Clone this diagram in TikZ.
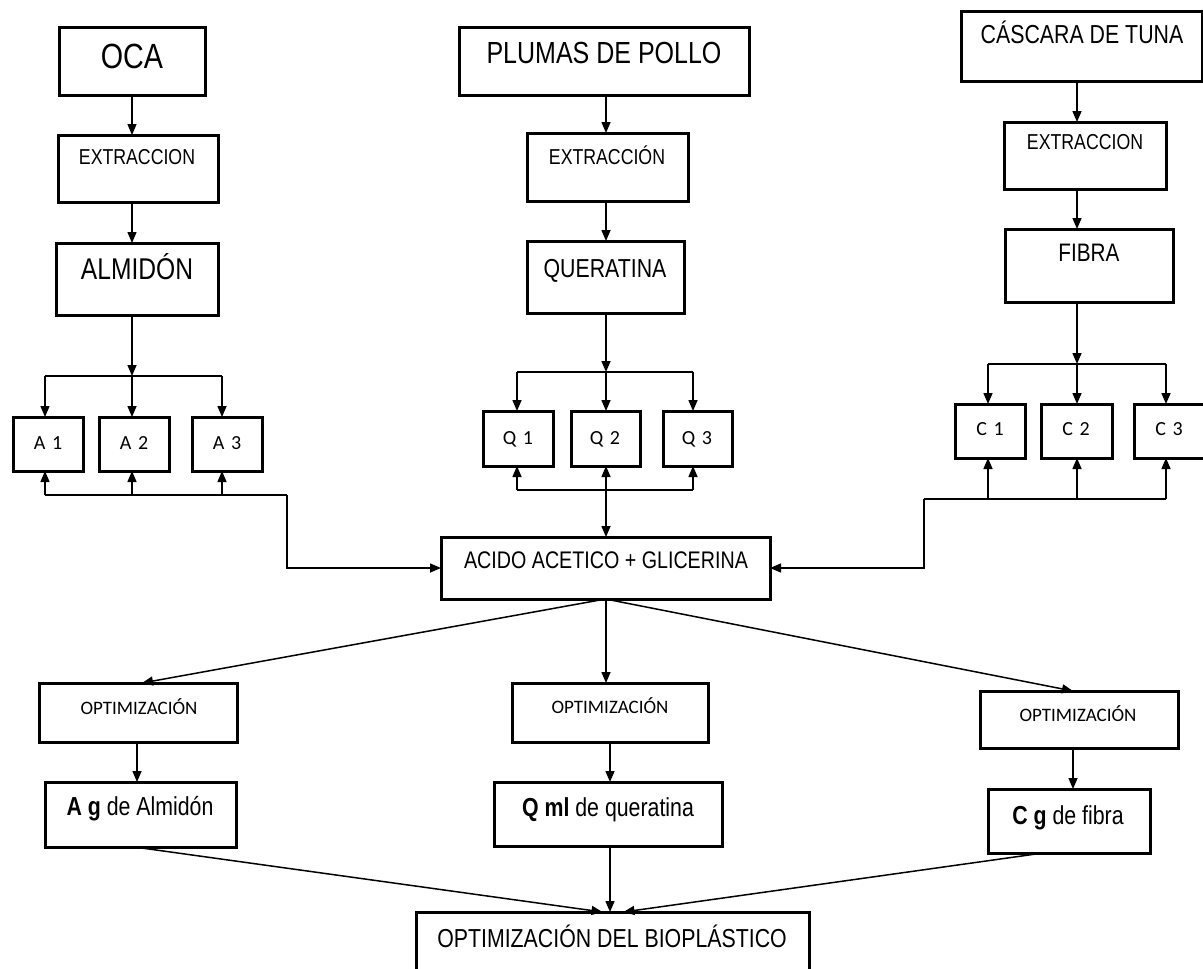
\documentclass[tikz,border=0pt]{standalone}
\usepackage{fontspec}
\setmainfont[FakeStretch=0.82]{Liberation Sans}
\newfontfamily\smallfont{Carlito}
\usetikzlibrary{arrows.meta}

% box given by its corners (x1,y1) and (x2,y2), y measured downwards
\newcommand\mkbox[5]{%
  \node[box, minimum width={#4-#2}, minimum height={#5-#3}]
    (#1) at ({(#2+#4)/2},{(#3+#5)/2}) {};}
\newcommand\fs[1]{\fontsize{#1}{#1}\selectfont}

\begin{document}
\begin{tikzpicture}[x=1pt,y=-1pt,
  box/.style={draw, line width=3pt, inner sep=0pt, outer sep=0pt},
  lbl/.style={anchor=base, inner sep=0pt},
  conn/.style={line width=1.5pt},
  arr/.style={conn, -{Triangle[length=11pt,width=9pt]}},
  dbl/.style={conn, {Triangle[length=11pt,width=9pt]}-{Triangle[length=11pt,width=9pt]}}]
\useasboundingbox[fill=white] (0,0) rectangle (1203,969);

% ---------- raw materials and extraction ----------
\mkbox{oca}{59}{27}{205}{95}
\node[lbl, font=\fs{35}] (oca-t) at (132,68) {OCA};
\mkbox{plumas}{459}{27}{749}{95}
\node[lbl, font=\fs{30.5}] (plumas-t) at (604,63) {PLUMAS DE POLLO};
\mkbox{cascara}{961}{11}{1202}{81}
\node[lbl, font=\fs{26}] (cascara-t) at (1082,43) {CÁSCARA DE TUNA};

\mkbox{extL}{58}{135}{218}{202}
\node[lbl, font=\fs{21.6}] (extL-t) at (137,164) {EXTRACCION};
\mkbox{extM}{527}{133}{688}{201}
\node[lbl, font=\fs{21.6}] (extM-t) at (607,164) {EXTRACCIÓN};
\mkbox{extR}{1004}{122}{1166}{189}
\node[lbl, font=\fs{21.6}] (extR-t) at (1085,149) {EXTRACCION};

\mkbox{alm}{56}{243}{218}{315}
\node[lbl, font=\fs{30}] (alm-t) at (137,279) {ALMIDÓN};
\mkbox{quer}{527}{241}{684}{313}
\node[lbl, font=\fs{26}] (quer-t) at (605,277) {QUERATINA};
\mkbox{fib}{1005}{229}{1173}{302}
\node[lbl, font=\fs{25.3}] (fib-t) at (1089,261) {FIBRA};

% column positions of the vertical connectors
\coordinate (xA) at (132,0);
\coordinate (xQ) at (606,0);
\coordinate (xC) at (1077,0);

\draw[arr] (oca.south -| xA) -- (extL.north -| xA);
\draw[arr] (extL.south -| xA) -- (alm.north -| xA);
\draw[arr] (plumas.south -| xQ) -- (extM.north -| xQ);
\draw[arr] (extM.south -| xQ) -- (quer.north -| xQ);
\draw[arr] (cascara.south -| xC) -- (extR.north -| xC);
\draw[arr] (extR.south -| xC) -- (fib.north -| xC);

% ---------- samples ----------
\mkbox{A1}{13}{417}{83}{471}
\mkbox{A2}{99}{417}{169}{471}
\mkbox{A3}{192}{417}{262}{471}
\mkbox{Q1}{483}{411}{553}{466}
\mkbox{Q2}{571}{411}{640}{466}
\mkbox{Q3}{663}{411}{732}{466}
\mkbox{C1}{955}{404}{1025}{458}
\mkbox{C2}{1041}{404}{1112}{458}
\mkbox{C3}{1134}{404}{1204}{458}
\foreach \n/\l/\k/\x/\y in {A1/A/1/48/449, A2/A/2/134/449, A3/A/3/227/449,
                      Q1/Q/1/518/444, Q2/Q/2/605/444, Q3/Q/3/697/444,
                      C1/C/1/990/435, C2/C/2/1076/435, C3/C/3/1169/435}
  \node[lbl, font=\smallfont\fs{20}] (\n-t) at (\x,\y) {\l\,\,\k};

% branch x positions
\coordinate (a1) at (45,0);  \coordinate (a2) at (132,0);  \coordinate (a3) at (222,0);
\coordinate (q1) at (517,0); \coordinate (q2) at (606,0);  \coordinate (q3) at (693,0);
\coordinate (c1) at (988,0); \coordinate (c2) at (1077,0); \coordinate (c3) at (1166,0);

% distribution lines
\coordinate (jA) at (132,376);
\coordinate (jQ) at (606,372);
\coordinate (jC) at (1077,364);
\draw[arr] (alm.south -| jA) -- (jA);
\draw[arr] (quer.south -| jQ) -- (jQ);
\draw[arr] (fib.south -| jC) -- (jC);
\draw[conn] (jA -| a1) -- (jA -| a3);
\draw[conn] (jQ -| q1) -- (jQ -| q3);
\draw[conn] (jC -| c1) -- (jC -| c3);
\foreach \i in {1,2,3} {
  \draw[arr] (jA -| a\i) -- (A\i.north -| a\i);
  \draw[arr] (jQ -| q\i) -- (Q\i.north -| q\i);
  \draw[arr] (jC -| c\i) -- (C\i.north -| c\i);
}

% ---------- acetic acid + glycerine ----------
\mkbox{acido}{441}{537}{770}{599}
\node[lbl, font=\fs{24}] (acido-t) at (606,568) {ACIDO ACETICO + GLICERINA};

\coordinate (bA) at (287,495);
\coordinate (bQ) at (606,490);
\coordinate (bC) at (924,499);
\foreach \i in {1,2,3} {
  \draw[arr] (bA -| a\i) -- (A\i.south -| a\i);
  \draw[arr] (bC -| c\i) -- (C\i.south -| c\i);
}
\draw[conn] (bA -| a1) -- (bA);
\draw[arr] (bA) |- (acido.west);
\draw[conn] (bC -| c3) -- (bC);
\draw[arr] (bC) |- (acido.east);
\draw[conn] (bQ -| q1) -- (bQ -| q3);
\draw[arr] (bQ -| q1) -- (Q1.south -| q1);
\draw[arr] (bQ -| q3) -- (Q3.south -| q3);
\draw[dbl] (Q2.south -| q2) -- (acido.north -| q2);

% ---------- optimisation ----------
\mkbox{optL}{39}{683}{237}{742}
\node[lbl, font=\smallfont\fs{19}] (optL-t) at (139,714) {OPTIMIZACIÓN};
\mkbox{optM}{512}{683}{708}{742}
\node[lbl, font=\smallfont\fs{19}] (optM-t) at (610,713) {OPTIMIZACIÓN};
\mkbox{optR}{980}{691}{1178}{748}
\node[lbl, font=\smallfont\fs{19}] (optR-t) at (1078,721) {OPTIMIZACIÓN};

\draw[arr] (acido.south) -- ([xshift=4pt]optL.north);
\draw[arr] (acido.south -| q2) -- (optM.north -| q2);
\draw[arr] (acido.south) -- ([xshift=-6pt]optR.north);

\mkbox{ag}{45}{782}{236}{847}
\node[lbl, font=\fs{26}] (ag-t) at (140,815) {\textbf{A g} de Almidón};
\mkbox{qml}{494}{782}{722}{846}
\node[lbl, font=\fs{26}] (qml-t) at (608,816) {\textbf{Q ml} de queratina};
\mkbox{cg}{988}{789}{1150}{853}
\node[lbl, font=\fs{26}] (cg-t) at (1068,824) {\textbf{C g} de fibra};

\coordinate (oL) at (137,0);
\coordinate (oM) at (610,0);
\coordinate (oR) at (1073,0);
\draw[arr] (optL.south -| oL) -- (ag.north -| oL);
\draw[arr] (optM.south -| oM) -- (qml.north -| oM);
\draw[arr] (optR.south -| oR) -- (cg.north -| oR);

% ---------- final result ----------
\mkbox{bio}{416}{912}{809}{973}
\node[lbl, font=\fs{26}] (bio-t) at (612,947) {OPTIMIZACIÓN DEL BIOPLÁSTICO};

\draw[arr] ([xshift=-6pt]ag.south) -- ([xshift=-10pt]bio.north);
\draw[arr] (qml.south -| oM) -- (bio.north -| oM);
\draw[arr] ([xshift=-26pt]cg.south) -- ([xshift=11pt]bio.north);
\end{tikzpicture}
\end{document}
